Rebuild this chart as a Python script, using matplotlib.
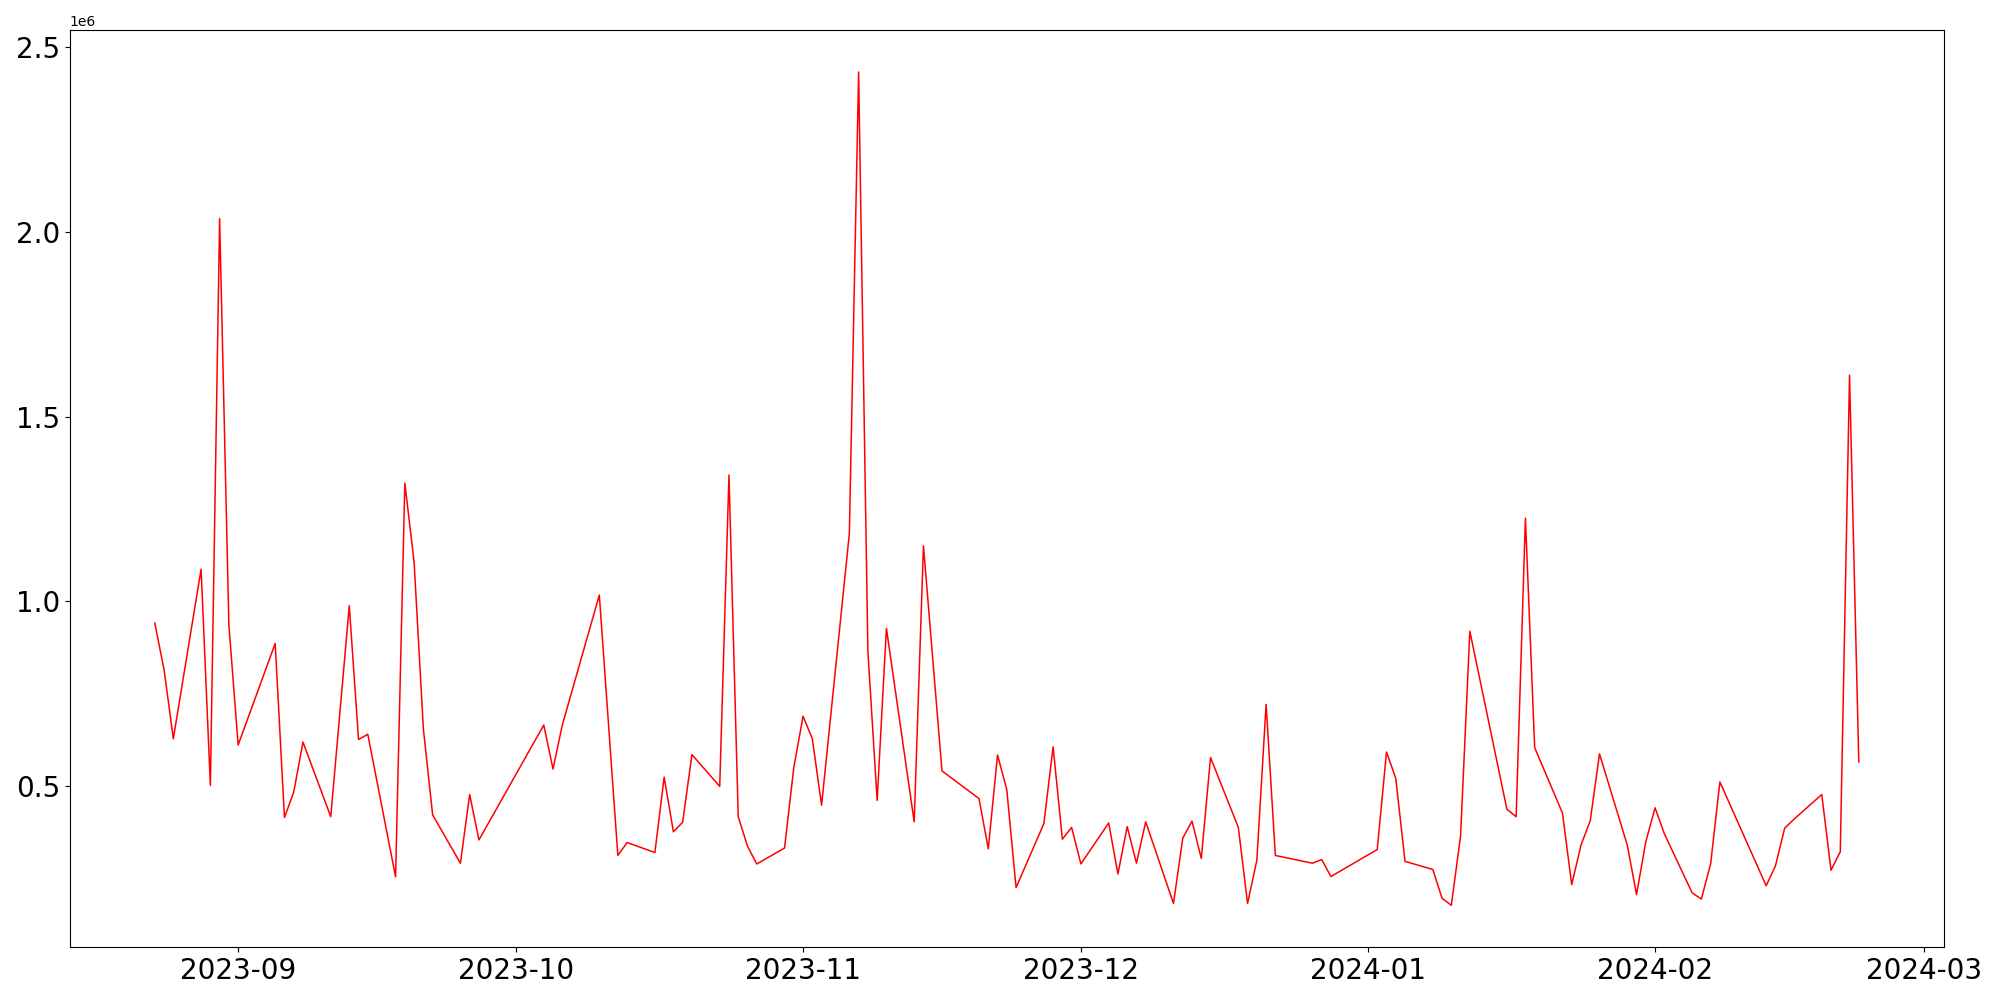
import matplotlib
matplotlib.use("Agg")
import matplotlib.pyplot as plt
import matplotlib.dates as mdates
import pandas as pd

dates = [
    "2023-08-23", "2023-08-24", "2023-08-25", "2023-08-28", "2023-08-29", "2023-08-30", "2023-08-31",
    "2023-09-01", "2023-09-05", "2023-09-06", "2023-09-07", "2023-09-08", "2023-09-11", "2023-09-13",
    "2023-09-14", "2023-09-15", "2023-09-18", "2023-09-19", "2023-09-20", "2023-09-21", "2023-09-22",
    "2023-09-25", "2023-09-26", "2023-09-27", "2023-10-04", "2023-10-05", "2023-10-06", "2023-10-10",
    "2023-10-12", "2023-10-13", "2023-10-16", "2023-10-17", "2023-10-18", "2023-10-19", "2023-10-20",
    "2023-10-23", "2023-10-24", "2023-10-25", "2023-10-26", "2023-10-27", "2023-10-30", "2023-10-31",
    "2023-11-01", "2023-11-02", "2023-11-03", "2023-11-06", "2023-11-07", "2023-11-08", "2023-11-09",
    "2023-11-10", "2023-11-13", "2023-11-14", "2023-11-16", "2023-11-20", "2023-11-21", "2023-11-22",
    "2023-11-23", "2023-11-24", "2023-11-27", "2023-11-28", "2023-11-29", "2023-11-30", "2023-12-01",
    "2023-12-04", "2023-12-05", "2023-12-06", "2023-12-07", "2023-12-08", "2023-12-11", "2023-12-12",
    "2023-12-13", "2023-12-14", "2023-12-15", "2023-12-18", "2023-12-19", "2023-12-20", "2023-12-21",
    "2023-12-22", "2023-12-26", "2023-12-27", "2023-12-28", "2024-01-02", "2024-01-03", "2024-01-04",
    "2024-01-05", "2024-01-08", "2024-01-09", "2024-01-10", "2024-01-11", "2024-01-12", "2024-01-16",
    "2024-01-17", "2024-01-18", "2024-01-19", "2024-01-22", "2024-01-23", "2024-01-24", "2024-01-25",
    "2024-01-26", "2024-01-29", "2024-01-30", "2024-01-31", "2024-02-01", "2024-02-02", "2024-02-05",
    "2024-02-06", "2024-02-07", "2024-02-08", "2024-02-13", "2024-02-14", "2024-02-15", "2024-02-16",
    "2024-02-19", "2024-02-20", "2024-02-21", "2024-02-22", "2024-02-23",
]

values_m = [
    0.941, 0.815, 0.628, 1.087, 0.502, 2.036, 0.936,
    0.611, 0.886, 0.415, 0.483, 0.619, 0.417, 0.988,
    0.626, 0.640, 0.254, 1.320, 1.106, 0.655, 0.422,
    0.291, 0.477, 0.354, 0.665, 0.546, 0.665, 1.017,
    0.312, 0.347, 0.320, 0.524, 0.376, 0.402, 0.585,
    0.499, 1.342, 0.417, 0.337, 0.289, 0.332, 0.550,
    0.689, 0.628, 0.448, 1.184, 2.433, 0.864, 0.461,
    0.927, 0.403, 1.150, 0.541, 0.466, 0.330, 0.584,
    0.490, 0.225, 0.398, 0.606, 0.356, 0.388, 0.289,
    0.400, 0.262, 0.390, 0.291, 0.403, 0.182, 0.359,
    0.405, 0.304, 0.577, 0.388, 0.182, 0.299, 0.721,
    0.312, 0.291, 0.301, 0.255, 0.328, 0.592, 0.521,
    0.296, 0.274, 0.196, 0.177, 0.365, 0.919, 0.437,
    0.417, 1.225, 0.604, 0.427, 0.233, 0.340, 0.406,
    0.587, 0.340, 0.206, 0.349, 0.441, 0.371, 0.211,
    0.194, 0.289, 0.511, 0.230, 0.284, 0.386, 0.410,
    0.477, 0.272, 0.322, 1.612, 0.565,
]

x = pd.to_datetime(dates)
y = [v * 1e6 for v in values_m]

fig = plt.figure(figsize=(20, 10), dpi=100)
ax = fig.add_axes([0.0348, 0.053, 0.9372, 0.9167])
ax.plot(x, y, color="red", linewidth=1.1)

ax.xaxis.set_major_locator(mdates.MonthLocator())
ax.xaxis.set_major_formatter(mdates.DateFormatter("%Y-%m"))
ax.tick_params(axis="both", labelsize=20)

fig.savefig("out.png", dpi=100)
